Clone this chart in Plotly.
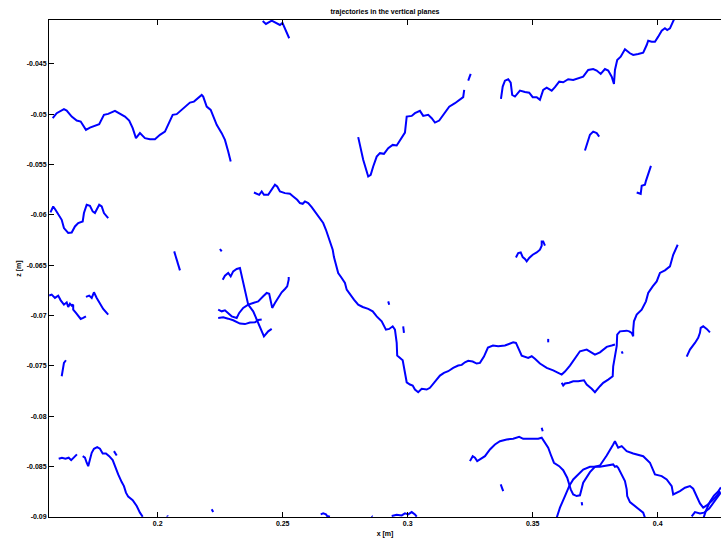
import plotly.graph_objects as go

# Trajectory segments, x and z in millimetres
seg_a_x = [158.0, 159.6, 162.5, 163.6, 165.6, 167.6, 169.2, 170.0, 171.3, 172.9, 174.5, 176.6, 178.5, 180.2, 182.9, 184.9, 186.9, 188.6, 190.0, 191.3, 192.9, 194.9, 196.9, 198.9, 200.9, 202.9, 204.2, 206.0, 207.6, 208.9, 210.9, 212.9, 214.5, 216.2, 217.6, 218.2, 219.6, 221.2, 222.2, 223.6, 225.6, 226.9, 228.2, 229.2]
seg_a_z = [-50.39, -49.89, -49.49, -49.63, -50.23, -50.62, -50.72, -51.05, -51.55, -51.32, -51.15, -50.98, -50.06, -49.96, -49.66, -49.96, -50.23, -50.62, -51.38, -52.37, -51.87, -52.37, -52.47, -52.47, -52.04, -51.72, -51.05, -50.06, -49.99, -49.73, -49.30, -48.84, -48.74, -48.34, -48.08, -48.24, -49.24, -49.56, -50.23, -51.05, -51.87, -52.54, -53.70, -54.69]

seg_b_x = [242.0, 243.3, 245.6, 247.6, 248.9, 249.9, 250.9, 252.6]
seg_b_z = [-40.73, -41.03, -40.70, -40.96, -41.13, -40.93, -41.53, -42.45]

seg_c_x = [280.2, 282.2, 284.2, 285.2, 286.2, 287.6, 288.9, 290.5, 292.2, 294.0, 295.6, 297.6, 298.9, 299.6, 301.6, 302.9, 304.9, 306.2, 308.2, 309.6, 310.9, 312.6, 314.2, 316.6, 318.9, 320.9, 322.2, 322.6]
seg_c_z = [-52.27, -54.52, -56.18, -56.01, -55.19, -54.20, -53.86, -53.93, -53.36, -53.04, -53.10, -52.37, -51.82, -50.23, -50.16, -49.89, -49.66, -50.16, -50.06, -50.39, -50.82, -50.62, -50.06, -49.24, -48.90, -48.50, -48.30, -47.58]

seg_d_x = [337.3, 338.0, 338.9, 340.2, 341.2, 341.8, 342.9, 344.9, 346.9, 348.6, 350.0, 351.6, 352.9, 354.2, 355.6, 357.6, 358.9, 360.6, 362.2, 364.2, 366.2, 368.2, 370.2, 372.2, 374.2, 375.6, 377.2, 378.9, 380.2, 381.6, 382.5, 382.9, 383.8, 385.2, 386.9, 388.9, 390.2, 392.2, 394.2, 395.6, 396.2, 397.6, 398.9, 400.2, 401.6, 402.9, 403.8, 404.9, 406.2, 406.9]
seg_d_z = [-48.47, -47.25, -46.66, -46.52, -46.86, -48.08, -48.24, -47.65, -47.78, -47.85, -48.30, -48.30, -48.57, -47.58, -47.35, -47.65, -47.31, -46.76, -46.82, -46.52, -46.59, -46.46, -46.26, -45.60, -45.50, -45.66, -45.99, -45.50, -45.66, -46.26, -46.98, -45.60, -44.60, -44.28, -43.54, -43.94, -44.11, -44.01, -43.88, -43.12, -42.69, -42.79, -42.79, -42.29, -41.70, -41.46, -41.63, -41.46, -40.70, -40.37]

seg_e_x = [324.2, 325.2]
seg_e_z = [-46.66, -45.99]

seg_f_x = [370.9, 372.9, 374.2, 375.6, 376.6]
seg_f_z = [-53.60, -52.04, -51.72, -51.87, -52.21]

seg_g_x = [397.3, 396.1, 395.3, 394.9, 393.6, 393.2, 391.6]
seg_g_z = [-55.12, -55.91, -56.61, -57.00, -57.10, -57.90, -57.77]

seg_h_x = [157.1, 158.2, 159.1, 160.2, 161.6, 162.5, 164.2, 165.6, 166.9, 168.2, 170.0, 170.5, 171.6, 172.9, 174.0, 174.9, 175.8, 176.6, 177.6, 178.5, 180.2]
seg_h_z = [-59.75, -59.16, -59.48, -59.98, -60.48, -61.30, -61.79, -61.74, -61.14, -60.80, -60.64, -59.81, -58.99, -59.09, -59.65, -59.81, -59.41, -58.99, -59.16, -59.81, -60.31]

seg_i_x = [156.6, 157.6, 158.9, 160.2, 161.2, 162.5, 163.6, 164.2, 164.9, 165.6, 166.2, 166.2, 167.3, 168.2, 169.2, 170.2, 171.3]
seg_i_z = [-68.01, -67.91, -68.24, -68.01, -68.48, -68.91, -68.68, -69.14, -68.81, -69.01, -68.91, -69.40, -69.73, -70.07, -70.33, -70.23, -70.07]

seg_j_x = [171.3, 172.6, 173.6, 174.5, 175.6, 176.9, 178.2, 180.2]
seg_j_z = [-68.14, -68.01, -68.24, -67.68, -68.24, -68.81, -69.33, -69.90]

seg_k_x = [206.6, 208.9]
seg_k_z = [-63.62, -65.50]

seg_l_x = [224.9, 225.6]
seg_l_z = [-63.38, -63.62]

seg_m1_x = [226.0, 226.9, 228.2, 229.2, 230.2, 231.6, 232.9, 234.9, 236.2, 238.2, 239.3, 240.9, 242.5, 244.2, 245.6]
seg_m1_z = [-66.43, -66.03, -65.76, -66.10, -65.60, -65.37, -65.27, -67.59, -68.91, -69.57, -70.23, -71.22, -72.05, -71.56, -71.32]

seg_m2_x = [224.2, 225.6, 226.9, 228.2, 229.6, 231.6, 232.6, 234.2, 236.2, 238.2, 240.2, 242.2, 243.6, 244.6, 245.2, 245.8, 246.9, 248.2, 249.6, 250.9, 251.8, 252.4, 252.4]
seg_m2_z = [-69.40, -69.57, -69.47, -69.80, -70.07, -70.23, -69.73, -69.23, -68.91, -68.74, -68.58, -68.08, -67.75, -67.82, -68.58, -69.23, -68.74, -68.24, -67.68, -67.35, -67.09, -66.43, -66.16]

seg_m3_x = [224.2, 226.2, 228.2, 230.2, 232.9, 234.9, 236.9, 238.9, 240.2, 241.6]
seg_m3_z = [-70.23, -70.17, -70.30, -70.46, -70.79, -70.84, -70.69, -70.66, -70.44, -70.39]

seg_n_x = [238.5, 239.6, 240.6, 241.6, 242.5, 244.2, 245.6, 246.9, 247.8, 248.9, 250.9, 252.9, 254.2, 255.8, 256.9, 258.0, 258.9, 260.2, 261.6, 262.9, 264.9, 266.2, 267.3, 268.2, 269.2, 270.0, 270.5, 271.3, 272.2, 273.6, 274.9, 275.6, 276.9, 278.5, 280.2, 282.0, 284.2, 286.0, 287.6, 289.6, 291.3, 292.6, 294.0, 294.9, 295.6, 295.8, 298.0, 298.5, 299.3, 299.6, 300.9, 302.0, 302.9, 304.2, 305.6, 307.6, 308.9, 310.0, 311.3, 312.9, 314.5, 316.2, 318.2, 320.2, 321.6, 322.9, 324.2, 326.0, 327.6, 328.9, 330.5, 332.1, 334.1, 336.2, 338.9, 340.9, 342.2, 343.3, 344.2, 345.6, 348.2, 349.6, 350.9, 352.9, 355.6, 358.2, 361.6, 362.9, 364.9, 367.6, 368.9, 371.6, 374.9, 376.9, 379.6, 381.6, 382.9]
seg_n_z = [-57.77, -57.90, -58.00, -57.67, -58.00, -58.00, -57.50, -57.00, -57.17, -57.67, -57.83, -57.90, -58.16, -58.49, -58.82, -58.89, -58.66, -58.82, -59.22, -59.65, -60.31, -60.80, -61.47, -62.13, -62.79, -63.45, -64.18, -64.94, -65.77, -66.26, -66.76, -67.42, -67.92, -68.41, -68.91, -69.14, -69.33, -69.57, -70.07, -70.56, -71.39, -71.32, -71.06, -71.39, -72.71, -73.97, -74.43, -75.03, -76.02, -76.62, -76.84, -76.94, -77.34, -77.61, -77.27, -77.34, -77.17, -76.84, -76.42, -75.95, -75.68, -75.52, -75.19, -74.96, -74.89, -74.63, -74.49, -74.56, -74.76, -74.69, -74.07, -73.17, -72.97, -73.04, -72.97, -72.78, -72.65, -72.71, -73.20, -73.97, -74.19, -74.03, -74.29, -74.76, -75.19, -75.43, -75.85, -75.55, -74.96, -73.97, -73.54, -73.37, -73.87, -73.64, -73.10, -72.97, -72.87]

seg_o_x = [343.3, 344.2, 345.2, 346.0, 346.9, 347.6, 348.6, 350.0, 351.6, 352.9, 353.6, 353.6, 354.2, 354.9]
seg_o_z = [-64.22, -63.78, -63.72, -64.18, -64.37, -64.61, -64.27, -63.95, -63.72, -63.45, -63.05, -62.63, -62.63, -63.05]

seg_p_x = [411.6, 412.9, 414.9, 416.2, 416.9, 417.2, 418.2, 419.6, 420.9]
seg_p_z = [-74.07, -73.37, -72.71, -72.21, -71.71, -71.22, -71.06, -71.32, -71.66]

seg_r_x = [161.6, 162.0, 162.5, 163.3]
seg_r_z = [-76.02, -75.19, -74.69, -74.43]

seg_s_x = [160.4, 161.7, 163.1, 164.4, 165.4, 166.4, 167.7]
seg_s_z = [-84.21, -84.11, -84.21, -84.11, -84.35, -84.11, -83.78]

seg_t_x = [170.0, 170.9, 171.6, 172.2, 172.9, 173.6, 174.5, 175.8, 176.9, 178.0, 179.3, 180.6, 182.0, 182.9, 184.2, 185.6, 186.5, 187.3, 188.2, 190.0, 191.6, 192.9, 194.0]
seg_t_z = [-83.96, -84.11, -84.61, -84.95, -84.28, -83.62, -83.22, -83.06, -83.22, -83.69, -83.69, -83.96, -84.35, -84.95, -85.77, -86.53, -86.93, -87.58, -87.98, -88.32, -88.91, -89.57, -89.97]

seg_u1_x = [324.9, 326.0, 326.9, 327.8, 328.9, 330.9, 332.9, 334.9, 336.9, 339.6, 342.2, 344.6, 346.2, 348.9, 352.2, 353.6, 354.9, 356.2, 357.2, 358.5, 360.6, 362.2, 363.8, 364.6, 365.2, 366.2, 367.6, 368.9, 370.2, 372.9, 374.9, 376.9, 378.9, 380.9, 382.2, 382.9, 383.6, 384.2, 385.6, 386.9, 387.6, 387.8, 388.9, 390.9, 392.9, 394.2, 394.9]
seg_u1_z = [-84.45, -83.96, -84.11, -84.45, -84.28, -83.96, -83.29, -82.80, -82.47, -82.30, -82.23, -82.03, -82.23, -82.23, -82.23, -82.13, -82.63, -83.12, -83.79, -84.61, -84.95, -85.35, -86.10, -86.76, -87.26, -87.76, -87.92, -87.85, -86.60, -85.54, -85.01, -85.01, -84.95, -84.88, -84.78, -85.01, -84.95, -85.11, -85.77, -86.44, -87.26, -87.92, -88.52, -88.92, -89.25, -89.57, -90.07]

seg_u2_x = [359.6, 360.9, 362.9, 364.6, 366.2, 368.2, 370.2, 372.9, 374.9, 376.9, 379.6, 382.2, 382.9, 384.2, 385.6, 387.6, 390.2, 394.2, 396.9, 398.9, 401.6, 403.6, 405.6, 406.2, 408.9, 410.9, 412.9, 414.2, 415.6, 416.9, 418.2, 419.6, 421.6, 423.6, 424.9]
seg_u2_z = [-90.07, -89.07, -87.92, -86.93, -86.27, -85.77, -85.28, -85.01, -85.01, -84.88, -83.89, -82.80, -82.47, -83.12, -82.96, -83.46, -83.69, -83.96, -84.61, -85.77, -85.94, -86.27, -86.93, -87.76, -87.43, -87.09, -86.93, -87.19, -87.92, -88.65, -89.07, -88.85, -88.42, -87.92, -87.43]

seg_v1_x = [413.6, 414.9, 416.9, 418.5, 420.6, 422.2, 423.6, 425.3]
seg_v1_z = [-89.94, -89.51, -89.64, -89.57, -89.17, -88.65, -88.18, -87.56]

seg_v2_x = [418.1, 419.3, 420.9, 422.5, 424.1, 425.3]
seg_v2_z = [-90.26, -89.37, -88.48, -87.89, -87.49, -87.06]

seg_w_x = [361.6, 362.2, 362.9, 364.6, 366.2, 368.2, 370.5, 371.6, 373.6, 374.9, 376.9, 378.2, 380.2, 382.0, 382.2, 382.9, 383.6, 383.8, 384.9, 387.6, 388.6, 389.6, 390.2, 390.2, 390.5, 391.6, 393.6, 395.3, 396.2, 398.0, 399.6, 400.9, 402.9, 404.9, 406.2, 408.0]
seg_w_z = [-76.67, -76.94, -76.74, -76.67, -76.52, -76.52, -76.42, -76.84, -77.27, -77.61, -77.01, -76.67, -76.35, -76.02, -75.03, -74.04, -73.04, -71.88, -71.56, -71.49, -71.56, -71.71, -72.05, -71.39, -70.56, -69.90, -69.40, -68.58, -67.75, -67.09, -66.60, -65.76, -65.50, -65.11, -63.95, -62.96]

# Short fragments and isolated samples
frag_x = [[385.6, 386.0], [356.2, 356.2], [292.2, 292.6], [298.2, 298.5], [182.5, 183.6],
          [203.8, 204.0], [221.6, 222.2], [265.2, 266.2, 267.3, 267.8, 268.9], [285.6, 285.9],
          [293.6, 295.6, 297.6, 298.9, 300.2, 301.6, 302.9, 303.6], [353.6, 354.0],
          [337.2, 338.2], [369.6, 369.8]]
frag_z = [[-73.54, -73.77], [-72.31, -72.65], [-68.58, -68.91], [-71.06, -71.71], [-83.46, -83.89],
          [-89.85, -89.95], [-89.24, -89.51], [-89.74, -89.64, -89.74, -89.91, -89.97], [-89.90, -89.97],
          [-89.90, -89.77, -89.84, -89.64, -89.74, -89.51, -89.74, -89.97], [-81.14, -81.48],
          [-86.76, -87.43], [-88.52, -88.85]]

segments_x = [seg_a_x, seg_b_x, seg_c_x, seg_d_x, seg_e_x, seg_f_x, seg_g_x, seg_h_x, seg_i_x,
              seg_j_x, seg_k_x, seg_l_x, seg_m1_x, seg_m2_x, seg_m3_x, seg_n_x, seg_o_x, seg_p_x,
              seg_r_x, seg_s_x, seg_t_x, seg_u1_x, seg_u2_x, seg_v1_x, seg_v2_x, seg_w_x] + frag_x
segments_z = [seg_a_z, seg_b_z, seg_c_z, seg_d_z, seg_e_z, seg_f_z, seg_g_z, seg_h_z, seg_i_z,
              seg_j_z, seg_k_z, seg_l_z, seg_m1_z, seg_m2_z, seg_m3_z, seg_n_z, seg_o_z, seg_p_z,
              seg_r_z, seg_s_z, seg_t_z, seg_u1_z, seg_u2_z, seg_v1_z, seg_v2_z, seg_w_z] + frag_z

x_ticks = [0.2, 0.25, 0.3, 0.35, 0.4]
x_tick_text = ["<b>0.2</b>", "<b>0.25</b>", "<b>0.3</b>", "<b>0.35</b>", "<b>0.4</b>"]
z_ticks = [-0.045, -0.05, -0.055, -0.06, -0.065, -0.07, -0.075, -0.08, -0.085, -0.09]
z_tick_text = ["<b>%s</b>" % s for s in
               ["-0.045", "-0.05", "-0.055", "-0.06", "-0.065", "-0.07", "-0.075", "-0.08", "-0.085", "-0.09"]]

fig = go.Figure()
for xs, zs in zip(segments_x, segments_z):
    fig.add_trace(go.Scatter(
        x=[v / 1000 for v in xs], y=[v / 1000 for v in zs],
        mode="lines", line=dict(color="#0000ff", width=2),
        hoverinfo="skip", showlegend=False, cliponaxis=True,
    ))

FAMILY = "Liberation Sans, Arial, sans-serif"

fig.update_layout(
    width=721, height=540,
    margin=dict(l=49, r=0, t=20, b=23),
    paper_bgcolor="white", plot_bgcolor="white",
    font=dict(family=FAMILY, size=7, color="#000000"),
    title=dict(text="<b>trajectories in the vertical planes</b>", x=0.5, xref="paper",
               y=1 - 12 / 540, yref="container", yanchor="middle",
               font=dict(family=FAMILY, size=7, color="#000")),
    showlegend=False,
)
fig.update_xaxes(
    range=[0.15652, 0.42532], showgrid=False, zeroline=False,
    showline=True, linecolor="#000", linewidth=1, mirror="ticks",
    ticks="inside", ticklen=5, tickcolor="#000", tickwidth=1,
    tickvals=x_ticks, ticktext=x_tick_text,
    tickfont=dict(family=FAMILY, size=7, color="#000"),
    title=dict(text="<b>x [m]</b>", standoff=4,
               font=dict(family=FAMILY, size=7, color="#000")),
)
fig.update_yaxes(
    range=[-0.09, -0.040635], showgrid=False, zeroline=False,
    showline=True, linecolor="#000", linewidth=1, mirror=False,
    ticks="inside", ticklen=5, tickcolor="#000", tickwidth=1,
    tickvals=z_ticks, ticktext=z_tick_text,
    tickfont=dict(family=FAMILY, size=7, color="#000"),
    title=dict(text="<b>z [m]</b>", standoff=4,
               font=dict(family=FAMILY, size=7, color="#000")),
)

fig.write_html("out.html")
